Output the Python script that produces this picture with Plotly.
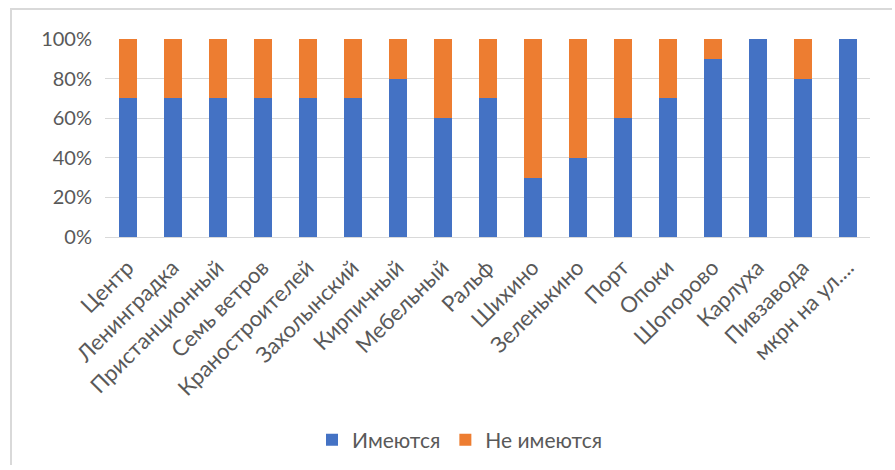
import plotly.graph_objects as go

categories = ["Центр", "Ленинградка", "Пристанционный", "Семь ветров", "Краностроителей",
              "Захолынский", "Кирпичный", "Мебельный", "Ральф", "Шихино", "Зеленькино",
              "Порт", "Опоки", "Шопорово", "Карлуха", "Пивзавода", "мкрн на ул...."]
have = [70, 70, 70, 70, 70, 70, 80, 60, 70, 30, 40, 60, 70, 90, 100, 80, 100]
have_not = [30, 30, 30, 30, 30, 30, 20, 40, 30, 70, 60, 40, 30, 10, 0, 20, 0]
y_ticks = [0, 20, 40, 60, 80, 100]
y_labels = ["0%", "20%", "40%", "60%", "80%", "100%"]

FONT = "Lato, Carlito, Calibri, sans-serif"
GRAY = "#595959"

fig = go.Figure()
fig.add_trace(go.Bar(x=categories, y=have, name="Имеются", marker_color="#4472C4",
                     marker_line_width=0))
fig.add_trace(go.Bar(x=categories, y=have_not, name="Не имеются", marker_color="#ED7D31",
                     marker_line_width=0))

L, R, T, B = 105, 25, 39, 233
W, H = 895, 470
pw, ph = W - L - R, H - T - B

def px(x):
    return (x - L) / pw

def py(y):
    return (H - B - y) / ph

fig.update_layout(
    barmode="stack",
    bargap=0.6,
    width=W, height=H,
    margin=dict(l=L, r=R, t=T, b=B, autoexpand=False),
    paper_bgcolor="white", plot_bgcolor="white",
    font=dict(family=FONT, color=GRAY, size=20),
    showlegend=True,
    legend=dict(orientation="h", x=px(460), xanchor="center", y=py(440), yanchor="middle",
                font=dict(family=FONT, size=21, color=GRAY), traceorder="normal",
                itemwidth=30, bgcolor="rgba(0,0,0,0)"),
    xaxis=dict(tickangle=-45, showgrid=False, showline=True, linecolor="#d9d9d9",
               linewidth=1, ticks="", automargin=False, ticklabelstandoff=8,
               tickfont=dict(family=FONT, size=22, color=GRAY)),
    yaxis=dict(range=[0, 100], tickvals=y_ticks, ticktext=y_labels, showgrid=True,
               gridcolor="#d9d9d9", gridwidth=1, zeroline=False, showline=False,
               ticks="", automargin=False, ticklabelstandoff=12,
               tickfont=dict(family=FONT, size=20, color=GRAY)),
)

frame_js = """
document.body.style.margin='0';
document.documentElement.style.overflow='hidden';
document.body.style.overflow='hidden';
var fr = document.createElement('div');
fr.style.position='absolute';
fr.style.left='10px';
fr.style.top='8px';
fr.style.width='880px';
fr.style.height='455px';
fr.style.borderLeft='2px solid #d9d9d9';
fr.style.borderTop='2px solid #d9d9d9';
fr.style.pointerEvents='none';
fr.style.zIndex='10';
document.body.appendChild(fr);
"""

fig.write_html("out.html", config={"displayModeBar": False}, post_script=frame_js)
